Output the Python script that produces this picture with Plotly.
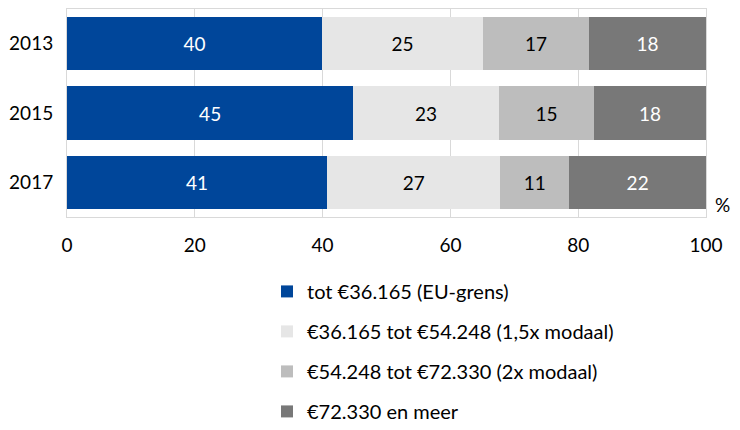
import plotly.graph_objects as go

years = ["2013", "2015", "2017"]
series_names = [
    "tot €36.165 (EU-grens)",
    "€36.165 tot €54.248 (1,5x modaal)",
    "€54.248 tot €72.330 (2x modaal)",
    "€72.330 en meer",
]
values = [
    [39.9, 44.8, 40.7],
    [25.2, 22.8, 27.1],
    [16.6, 14.9, 10.8],
    [18.3, 17.5, 21.4],
]
labels = [
    ["40", "45", "41"],
    ["25", "23", "27"],
    ["17", "15", "11"],
    ["18", "18", "22"],
]
colors = ["#00469A", "#E6E6E6", "#BDBDBD", "#787878"]
text_colors = ["white", "black", "black", "white"]
x_ticks = [0, 20, 40, 60, 80, 100]

FONT = "Lato"

fig = go.Figure()
for i, name in enumerate(series_names):
    fig.add_trace(go.Bar(
        y=years, x=values[i], name=name, orientation="h",
        marker=dict(color=colors[i], line=dict(width=0)),
        text=labels[i], textposition="inside", insidetextanchor="middle",
        textfont=dict(color=text_colors[i], size=19, family=FONT),
        legendgroup=f"g{i}", hoverinfo="skip",
    ))

# the page body adds an 8px margin, so the figure is drawn smaller to avoid scrollbars
fig.update_layout(
    width=724, height=414,
    barmode="stack", bargap=0.23,
    margin=dict(l=59, r=26, t=1, b=205, autoexpand=False),
    plot_bgcolor="white", paper_bgcolor="white",
    font=dict(family=FONT, size=19, color="black"),
    showlegend=True,
    legend=dict(
        x=0.313, xanchor="left", y=-0.264, yanchor="top",
        traceorder="grouped", tracegroupgap=11,
        font=dict(size=20, family=FONT),
        itemwidth=30,
    ),
    uniformtext=dict(mode="show", minsize=19),
)
fig.update_xaxes(
    range=[0, 100], tickvals=x_ticks, showgrid=True, gridcolor="#D9D9D9", gridwidth=1,
    showline=True, linecolor="#D9D9D9", mirror=True, zeroline=False,
    ticks="", ticklabelstandoff=11, tickfont=dict(size=19), automargin=False,
)
fig.update_yaxes(
    autorange="reversed", showgrid=False, showline=True, linecolor="#D9D9D9", mirror=True,
    ticks="", ticklabelstandoff=9, tickfont=dict(size=19), automargin=False,
)
fig.add_annotation(
    text="%", xref="paper", yref="paper", x=1.0, y=0.058, xanchor="left", yanchor="middle",
    xshift=7, showarrow=False, font=dict(size=19, family=FONT),
)
fig.write_html("out.html")
